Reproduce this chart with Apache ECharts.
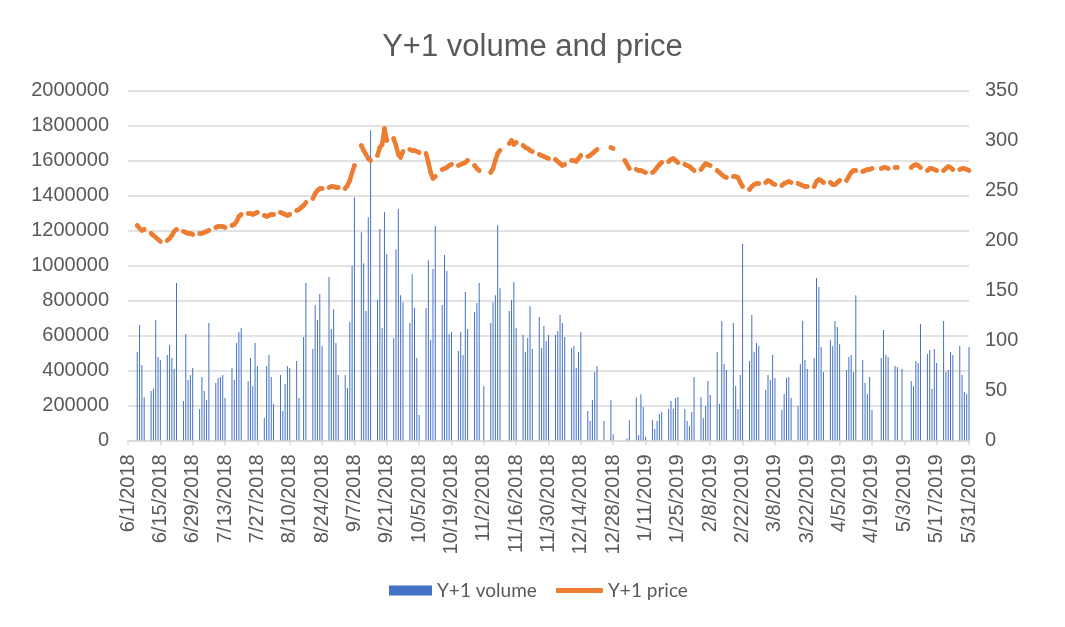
<!DOCTYPE html>
<html><head><meta charset="utf-8">
<script src="https://cdn.jsdelivr.net/npm/echarts@6/dist/echarts.min.js"></script>
<style>html,body{margin:0;padding:0;background:#fff}#c{width:1065px;height:627px}</style>
</head><body><div id="c"></div>
<script>
// Trading days (date strings), with volume and price for each
const tradeDates = [
'6/5/2018','6/6/2018','6/7/2018','6/8/2018',
'6/11/2018','6/12/2018','6/13/2018','6/14/2018','6/15/2018',
'6/18/2018','6/19/2018','6/20/2018','6/21/2018','6/22/2018',
'6/25/2018','6/26/2018','6/27/2018','6/28/2018','6/29/2018',
'7/2/2018','7/3/2018','7/4/2018','7/5/2018','7/6/2018',
'7/9/2018','7/10/2018','7/11/2018','7/12/2018','7/13/2018',
'7/16/2018','7/17/2018','7/18/2018','7/19/2018','7/20/2018',
'7/23/2018','7/24/2018','7/25/2018','7/26/2018','7/27/2018',
'7/30/2018','7/31/2018','8/1/2018','8/2/2018','8/3/2018',
'8/6/2018','8/7/2018','8/8/2018','8/9/2018','8/10/2018',
'8/13/2018','8/14/2018','8/15/2018','8/16/2018','8/17/2018',
'8/20/2018','8/21/2018','8/22/2018','8/23/2018','8/24/2018',
'8/27/2018','8/28/2018','8/29/2018','8/30/2018','8/31/2018',
'9/3/2018','9/4/2018','9/5/2018','9/6/2018','9/7/2018',
'9/10/2018','9/11/2018','9/12/2018','9/13/2018','9/14/2018',
'9/17/2018','9/18/2018','9/19/2018','9/20/2018','9/21/2018',
'9/24/2018','9/25/2018','9/26/2018','9/27/2018','9/28/2018',
'10/1/2018','10/2/2018','10/3/2018','10/4/2018','10/5/2018',
'10/8/2018','10/9/2018','10/10/2018','10/11/2018','10/12/2018',
'10/15/2018','10/16/2018','10/17/2018','10/18/2018','10/19/2018',
'10/22/2018','10/23/2018','10/24/2018','10/25/2018','10/26/2018',
'10/29/2018','10/30/2018','10/31/2018','11/2/2018',
'11/5/2018','11/6/2018','11/7/2018','11/8/2018','11/9/2018',
'11/13/2018','11/14/2018','11/15/2018','11/16/2018',
'11/19/2018','11/20/2018','11/21/2018','11/22/2018','11/23/2018',
'11/26/2018','11/27/2018','11/28/2018','11/29/2018','11/30/2018',
'12/3/2018','12/4/2018','12/5/2018','12/6/2018','12/7/2018',
'12/10/2018','12/11/2018','12/12/2018','12/13/2018','12/14/2018',
'12/17/2018','12/18/2018','12/19/2018','12/20/2018','12/21/2018',
'12/24/2018','12/27/2018','12/28/2018',
'1/2/2019','1/3/2019','1/4/2019',
'1/7/2019','1/8/2019','1/9/2019','1/10/2019','1/11/2019',
'1/14/2019','1/15/2019','1/16/2019','1/17/2019','1/18/2019',
'1/21/2019','1/22/2019','1/23/2019','1/24/2019','1/25/2019',
'1/28/2019','1/29/2019','1/30/2019','1/31/2019','2/1/2019',
'2/4/2019','2/5/2019','2/6/2019','2/7/2019','2/8/2019',
'2/11/2019','2/12/2019','2/13/2019','2/14/2019','2/15/2019',
'2/18/2019','2/19/2019','2/20/2019','2/21/2019','2/22/2019',
'2/25/2019','2/26/2019','2/27/2019','2/28/2019','3/1/2019',
'3/4/2019','3/5/2019','3/6/2019','3/7/2019','3/8/2019',
'3/11/2019','3/12/2019','3/13/2019','3/14/2019','3/15/2019',
'3/18/2019','3/19/2019','3/20/2019','3/21/2019','3/22/2019',
'3/25/2019','3/26/2019','3/27/2019','3/28/2019','3/29/2019',
'4/1/2019','4/2/2019','4/3/2019','4/4/2019','4/5/2019',
'4/8/2019','4/9/2019','4/10/2019','4/11/2019','4/12/2019',
'4/15/2019','4/16/2019','4/17/2019','4/18/2019','4/19/2019',
'4/23/2019','4/24/2019','4/25/2019','4/26/2019',
'4/29/2019','4/30/2019','5/2/2019',
'5/6/2019','5/7/2019','5/8/2019','5/9/2019','5/10/2019',
'5/13/2019','5/14/2019','5/15/2019','5/16/2019','5/17/2019',
'5/20/2019','5/21/2019','5/22/2019','5/23/2019','5/24/2019',
'5/27/2019','5/28/2019','5/29/2019','5/30/2019','5/31/2019'
];
const volume = [
505000,659000,430000,248000,
282000,293000,688000,476000,459000,
488000,545000,470000,408000,899000,
225000,608000,345000,373000,413000,
179000,362000,282000,230000,670000,
328000,356000,362000,373000,242000,
413000,345000,556000,619000,642000,
339000,470000,310000,556000,425000,
128000,425000,488000,362000,208000,
373000,168000,322000,425000,413000,
453000,242000,null,590000,899000,
522000,773000,688000,836000,539000,
933000,636000,750000,556000,373000,
373000,299000,676000,996000,1390000,
1190000,1013000,739000,1276000,1773000,
802000,1208000,642000,1305000,1065000,
585000,1093000,1322000,830000,790000,
670000,950000,756000,470000,145000,
756000,1030000,573000,979000,1225000,
773000,1059000,968000,608000,619000,
510000,619000,488000,848000,636000,
733000,785000,899000,310000,
670000,790000,830000,1230000,870000,
739000,802000,905000,642000,
602000,505000,585000,768000,522000,
705000,528000,653000,568000,602000,
602000,625000,716000,670000,590000,
528000,539000,413000,505000,619000,
168000,110000,230000,390000,425000,
110000,229000,34000,
null,11000,114000,
244000,29000,263000,190000,19000,
116000,65000,110000,150000,162000,
179000,225000,179000,242000,248000,
179000,110000,82000,162000,362000,
248000,128000,196000,339000,259000,
505000,208000,682000,436000,402000,
670000,310000,179000,373000,1122000,
453000,716000,505000,556000,539000,
288000,373000,345000,488000,356000,
173000,265000,356000,362000,242000,
196000,436000,682000,459000,408000,
470000,928000,876000,533000,390000,
573000,539000,682000,648000,550000,
402000,476000,488000,390000,830000,
459000,328000,265000,362000,173000,
470000,630000,488000,476000,
425000,419000,408000,
339000,310000,453000,442000,665000,
493000,516000,293000,522000,442000,
682000,390000,402000,505000,488000,
539000,373000,276000,265000,533000
];
const price = [
215,212,210,211,
207,205,203,201,199,
200,202,205,209,211,
209,208,207,207,206,
207,207,208,209,210,
213,214,214,214,213,
215,216,219,224,226,
227,227,226,227,228,
225,224,225,226,226,
228,227,226,225,226,
230,231,233,235,238,
242,247,250,252,252,
253,254,254,253,253,
252,255,260,268,275,
295,290,286,282,280,
285,293,296,312,300,
302,295,286,283,289,
291,290,290,289,288,
287,278,268,262,264,
271,272,273,275,276,
275,276,277,278,280,
275,272,270,null,
268,272,280,287,290,
297,300,296,298,
295,293,292,290,289,
286,285,284,283,282,
281,279,277,275,276,
280,280,279,282,285,
284,285,287,289,291,
null,293,292,
280,276,272,
271,270,270,269,268,
268,270,273,276,278,
279,281,282,280,278,
276,275,274,272,270,
271,274,277,276,275,
270,268,266,264,263,
264,264,263,258,254,
251,254,256,257,257,
258,260,259,257,256,
255,257,258,259,258,
257,256,255,254,254,
254,259,261,260,258,
258,256,256,258,260,
260,264,268,270,270,
269,270,271,271,272,
272,273,273,272,
273,273,null,
273,275,276,275,273,
270,272,272,271,270,
270,272,274,273,271,
271,272,272,271,270
];

// Calendar-day categories for the date axis
const categories = [];
for (let t = Date.UTC(2018, 5, 1); t <= Date.UTC(2019, 4, 31); t += 86400000) {
  const d = new Date(t);
  categories.push((d.getUTCMonth() + 1) + '/' + d.getUTCDate() + '/' + d.getUTCFullYear());
}
const volSeries = categories.map(() => null);
const priceSeries = categories.map(() => null);
tradeDates.forEach((s, i) => {
  const k = categories.indexOf(s);
  if (k >= 0) { volSeries[k] = volume[i]; priceSeries[k] = price[i]; }
});

const FONT = 'Liberation Sans';
const GREY = '#595959';
const chart = echarts.init(document.getElementById('c'));
chart.setOption({
  animation: false,
  backgroundColor: '#ffffff',
  title: {
    text: 'Y+1 volume and price', left: 'center', top: 27,
    textStyle: { fontFamily: FONT, fontSize: 31, fontWeight: 'normal', color: GREY }
  },
  legend: [
    { data: ['Y+1 volume'], left: 384, top: 576, itemWidth: 43, itemHeight: 10, icon: 'rect',
      textStyle: { fontFamily: 'Lato', fontSize: 19, color: GREY } },
    { data: ['Y+1 price'], left: 551, top: 576, itemWidth: 47, itemHeight: 5, icon: 'roundRect',
      textStyle: { fontFamily: 'Lato', fontSize: 19, color: GREY } }
  ],
  grid: { left: 128, right: 96, top: 90.5, bottom: 186.7, containLabel: false },
  xAxis: {
    type: 'category', data: categories, boundaryGap: false,
    axisLine: { lineStyle: { color: '#d9d9d9', width: 1.5 } },
    axisTick: { interval: 13, length: 5, lineStyle: { color: '#d9d9d9', width: 1.5 } },
    axisLabel: { interval: 13, rotate: 90, margin: 14, fontFamily: FONT, fontSize: 20, color: GREY },
    splitLine: { show: false }
  },
  yAxis: [
    { type: 'value', min: 0, max: 2000000, interval: 200000,
      axisLine: { show: false }, axisTick: { show: false },
      axisLabel: { margin: 19, fontFamily: FONT, fontSize: 20, color: GREY, formatter: v => String(v) },
      splitLine: { lineStyle: { color: '#d9d9d9', width: 1.5 } } },
    { type: 'value', min: 0, max: 350, interval: 50, position: 'right',
      axisLine: { show: false }, axisTick: { show: false },
      axisLabel: { margin: 16, fontFamily: FONT, fontSize: 20, color: GREY, formatter: v => String(v) },
      splitLine: { show: false } }
  ],
  series: [
    { name: 'Y+1 volume', type: 'bar', yAxisIndex: 0, data: volSeries, barWidth: 1,
      itemStyle: { color: '#4472C4' } },
    { name: 'Y+1 price', type: 'line', yAxisIndex: 1, data: priceSeries, connectNulls: false,
      showSymbol: true, showAllSymbol: true, symbol: 'circle', symbolSize: 4.5,
      itemStyle: { color: '#ED7D31' },
      lineStyle: { color: '#ED7D31', width: 4.5, cap: 'round', join: 'round' } }
  ]
});
</script>
</body></html>
